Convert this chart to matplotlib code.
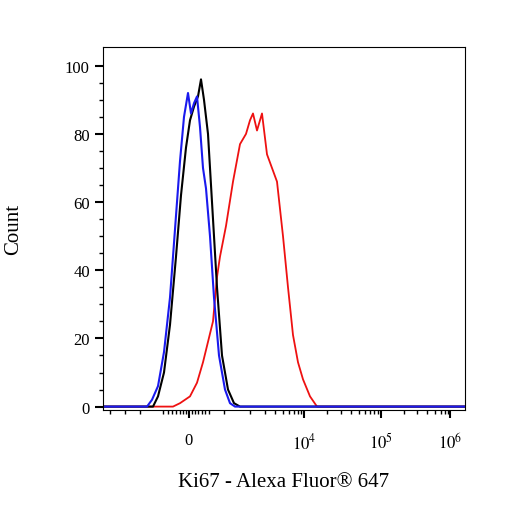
import matplotlib
matplotlib.use("Agg")
import matplotlib.pyplot as plt
import numpy as np

plt.rcParams['font.family'] = ['Liberation Serif', 'DejaVu Serif']
plt.rcParams['mathtext.fontset'] = 'stix'

blue_x = [100, 147, 152, 158, 164, 170, 175, 180, 184, 188, 191, 194, 197, 200, 203, 206, 210, 214, 219, 225, 230, 235, 470]
blue_y = [0, 0, 2, 6, 16, 32, 52, 72, 85, 92, 86, 89, 91, 82, 70, 64, 50, 32, 15, 5, 1, 0, 0]
black_x = [100, 153, 158, 164, 170, 176, 181, 186, 190, 194, 198, 201, 204, 208, 212, 217, 222, 228, 234, 240, 470]
black_y = [0, 0, 3, 10, 24, 44, 62, 76, 84, 88, 91, 96, 90, 80, 60, 35, 15, 5, 1, 0, 0]
red_x = [100, 173, 180, 190, 197, 203, 208, 213, 217, 220, 226, 233, 240, 246, 250, 253, 257, 262, 267, 272, 277, 283, 288, 293, 298, 303, 310, 317, 470]
red_y = [0, 0, 1, 3, 7, 13, 19, 25, 38, 44, 53, 66, 77, 80, 84, 86, 81, 86, 74, 70, 66, 50, 35, 21, 13, 8, 3, 0, 0]

major_pos = [189, 304, 381, 450]
major_lab = ['0', '$10^4$', '$10^5$', '$10^6$']
minor_pos = [110, 125, 140, 163, 168, 172, 176, 180, 183, 186, 192, 195, 198, 202, 205, 209,
             224, 250, 265, 275, 283, 289, 294, 298, 301, 327, 341, 351, 359, 365, 370, 374, 378,
             404, 417, 427, 435, 441, 445, 448]

fig = plt.figure(figsize=(5.06, 5.06), dpi=100)
ax = fig.add_axes([103/506, 95/506, 362/506, 363/506])
ax.plot(red_x, red_y, color='#ee1111', lw=1.3)
ax.plot(black_x, black_y, color='black', lw=1.5)
ax.plot(blue_x, blue_y, color='#1a1aee', lw=1.5)
ax.set_xlim(103, 465)
ax.set_ylim(-1.0, 105.5)
ax.set_yticks([0, 20, 40, 60, 80, 100])
ax.set_yticks(np.arange(0, 101, 5), minor=True)
ax.set_xticks(major_pos)
ax.set_xticklabels(major_lab)
ax.set_xticks(minor_pos, minor=True)
ax.tick_params(axis='both', which='major', length=6, width=1.5, labelsize=12, direction='out')
ax.tick_params(axis='both', which='minor', length=3, width=1, direction='out')
ax.tick_params(axis='x', pad=10)
ax.set_xlabel('Ki67 - Alexa Fluor® 647', fontsize=15, labelpad=14)
ax.set_ylabel('Count', fontsize=15, labelpad=30)
fig.savefig('out.png', dpi=100)
